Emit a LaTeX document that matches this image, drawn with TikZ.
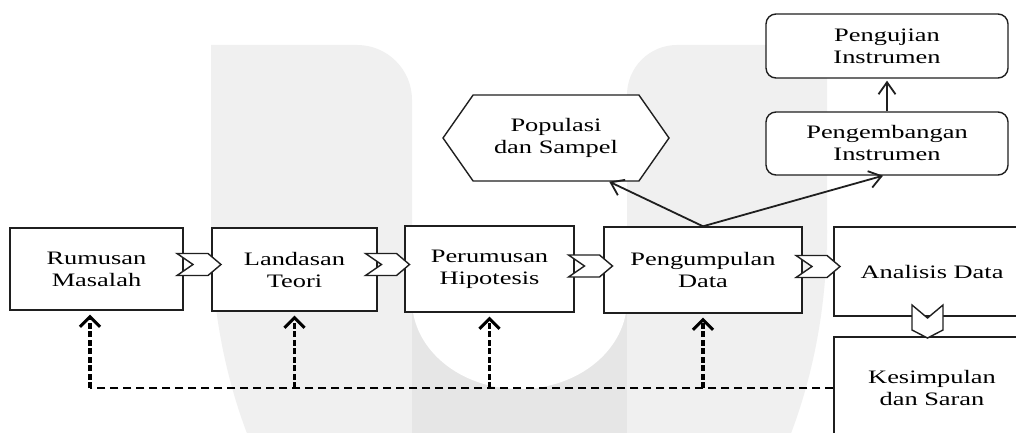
\documentclass[tikz,border=0pt]{standalone}
\usepackage{fontspec}
\setmainfont[FakeStretch=1.39]{Liberation Serif}
\usetikzlibrary{arrows.meta,shapes.symbols}
\definecolor{abuwm}{HTML}{F0F0F0}
\definecolor{abuwm2}{HTML}{E6E6E6}

\begin{document}
\begin{tikzpicture}[x=1pt,y=-1pt,
  garis/.style={draw=black!88,line width=1.4pt},
  kotak/.style={garis,fill=white,align=center,inner sep=0pt,font=\fontsize{19}{22}\selectfont},
  kotakbulat/.style={kotak,rounded corners=10pt},
  segienam/.style={kotak,shape=signal,signal to=east and west,signal pointer angle=110},
  chevkanan/.pic={\draw[garis,fill=white] (-22,-11) -- (9,-11) -- (22,0) -- (9,11) -- (-22,11) -- (-6,0) -- cycle;},
  chevbawah/.pic={\draw[garis,fill=white] (-15.5,-16.5) -- (0,-3.5) -- (15.5,-16.5) -- (15.5,8.5) -- (0,16.5) -- (-15.5,8.5) -- cycle;},
  panah/.style={garis,line width=1.8pt,-{Straight Barb[length=12pt,width=17pt,line width=1.8pt]}},
  balik/.style={draw=black,line width=3.2pt,dash pattern=on 6pt off 2.5pt,-{Straight Barb[length=10pt,width=20pt,line width=3pt]}},
  putus/.style={draw=black,line width=1.5pt,dash pattern=on 8pt off 5pt}]
\useasboundingbox (0,0) rectangle (1016,433);
\clip (0,0) rectangle (1016,433);
\fill[white] (0,0) rectangle (1016,433);
%Logo samar
\fill[abuwm] (211,250) -- (211,45) -- (357,45) .. controls (387.4,45) and (412,69.6) .. (412,100) -- (412,250) -- cycle;
\fill[abuwm] (827,250) -- (827,45) -- (677,45) .. controls (649.4,45) and (627,67.4) .. (627,95) -- (627,250) -- cycle;
\begin{scope}
  \clip (0,230) rectangle (1016,433);
  \fill[abuwm] (519,230) ellipse [x radius=308, y radius=433];
\end{scope}
\fill[abuwm2] (412,230) rectangle (627,433);
\fill[white] (412,229) rectangle (627,300);
\fill[white] (519.5,300) ellipse [x radius=107.5, y radius=89];
%Kotak 1-4
\node[kotak,minimum width=173pt,minimum height=82pt] (rm) at (96.5,269) {Rumusan\\Masalah};
\node[kotak,minimum width=165pt,minimum height=83pt] (lt) at (294.5,269.5) {Landasan\\Teori};
\node[kotak,minimum width=169pt,minimum height=86pt] (ph) at (489.5,269) {Perumusan\\Hipotesis};
\node[kotak,minimum width=198pt,minimum height=86pt] (pd) at (703,270) {Pengumpulan\\Data};
%Kotak 5,6
\node[kotak,minimum width=196pt,minimum height=89pt] (ad) at (932,271.5) {Analisis Data};
\node[kotak,minimum width=196pt,minimum height=102pt] (ks) at (932,388) {Kesimpulan\\dan Saran};
%Panah blok
\pic (c1) at (199,264.5) {chevkanan};
\pic (c2) at (387.5,264.5) {chevkanan};
\pic (c3) at (590.5,266) {chevkanan};
\pic (c4) at (818,266.5) {chevkanan};
\pic (c5) at (927.5,321.5) {chevbawah};
%Populasi
\node[segienam,minimum width=226pt,minimum height=86pt] (pop) at (556,138) {Populasi\\dan Sampel};
%Instrumen
\node[kotakbulat,minimum width=242pt,minimum height=63pt] (pi) at (887,143.5) {Pengembangan\\Instrumen};
\node[kotakbulat,minimum width=242pt,minimum height=64pt] (pu) at (887,46) {Pengujian\\Instrumen};
%Panah
\coordinate (popsudut) at ([xshift=-30pt]pop.south east);
\draw[panah] (pd.north) -- (popsudut);
\draw[panah] (pd.north) -- ([xshift=-4pt]pi.south);
\draw[panah,shorten >=2pt] (pi.north) -- (pu.south);
%Umpan balik
\coordinate (rmbawah) at ([xshift=-6.5pt]rm.south);
\draw[putus] (ks.west) -- (ks.west -| rmbawah);
\foreach \k in {rmbawah,lt.south,ph.south,pd.south}
  \draw[balik] (ks.west -| \k) -- ([yshift=-4pt]\k);
\end{tikzpicture}
\end{document}
